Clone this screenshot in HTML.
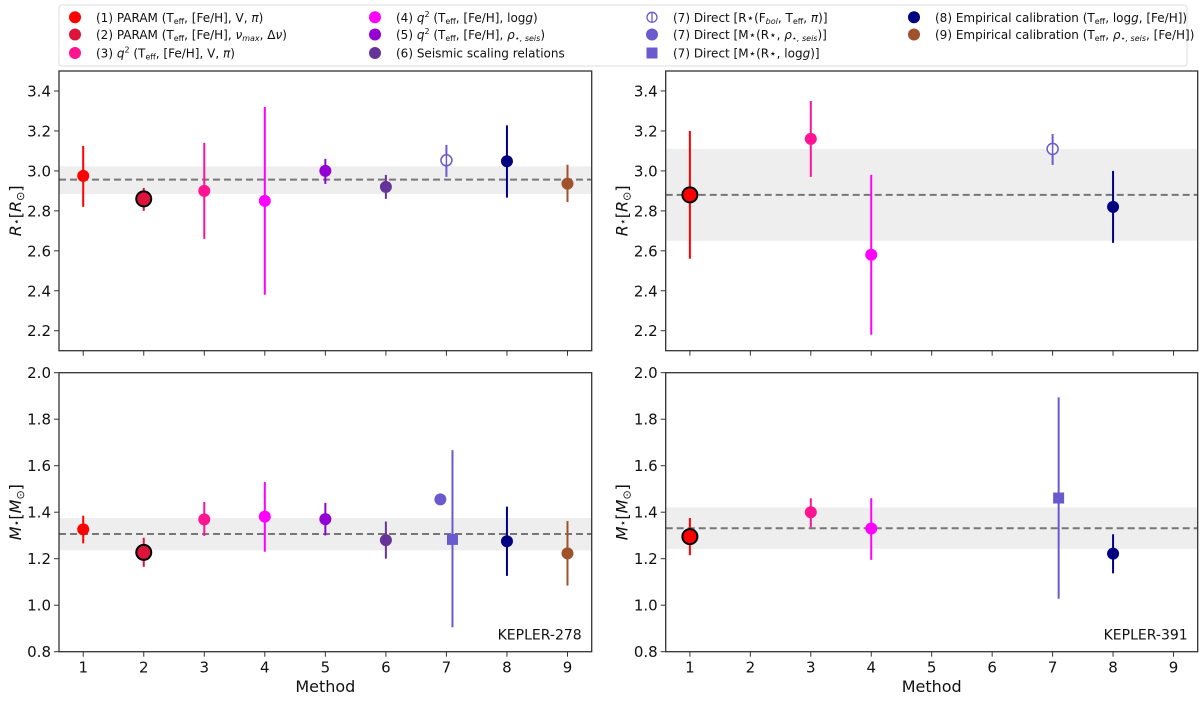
<!DOCTYPE html>
<html><head><meta charset="utf-8"><style>
body{margin:0;background:#fff;width:1200px;height:697px;overflow:hidden;font-family:"Liberation Sans","DejaVu Sans",sans-serif}
svg text{font-family:"DejaVu Sans","Liberation Sans",sans-serif}
</style></head><body>
<svg id="chart" width="1200" height="697" xmlns="http://www.w3.org/2000/svg">
<g id="legend">
<rect x="59" y="5" width="1128" height="61" fill="#fff" stroke="#ddd" rx="3"/>
</g>
</svg>
<script>
const colors=["#ff0000","#dc143c","#ff1493","#ff00ff","#9400d3","#663399","#6a5acd","#000080","#a0522d"];
// KEPLER-278 radius
const k278R_x=[1,2,3,4,5,6,7,8,9];
const k278R_val=[2.975,2.86,2.90,2.85,3.00,2.92,3.053,3.048,2.936];
const k278R_lo=[2.82,2.80,2.66,2.38,2.935,2.86,2.97,2.866,2.844];
const k278R_hi=[3.125,2.915,3.14,3.32,3.06,2.98,3.13,3.228,3.031];
const k278R_type=["c","big","c","c","c","c","open","c","c"];
const k278R_band=[2.884,3.023,2.956];
// KEPLER-278 mass
const k278M_x=[1,2,3,4,5,6,6.9,7.1,8,9];
const k278M_col=[0,1,2,3,4,5,6,6,7,8];
const k278M_val=[1.326,1.227,1.369,1.381,1.37,1.28,1.455,1.283,1.275,1.223];
const k278M_lo=[1.266,1.165,1.298,1.23,1.30,1.20,1.455,0.905,1.126,1.084];
const k278M_hi=[1.385,1.29,1.444,1.53,1.44,1.36,1.455,1.667,1.424,1.362];
const k278M_type=["c","big","c","c","c","c","c","sq","c","c"];
const k278M_band=[1.236,1.375,1.306];
// KEPLER-391 radius
const k391R_x=[1,3,4,7,8];
const k391R_col=[0,2,3,6,7];
const k391R_val=[2.88,3.16,2.58,3.11,2.82];
const k391R_lo=[2.56,2.97,2.18,3.03,2.64];
const k391R_hi=[3.20,3.35,2.98,3.185,3.0];
const k391R_type=["big","c","c","open","c"];
const k391R_band=[2.65,3.11,2.88];
// KEPLER-391 mass
const k391M_x=[1,3,4,7.1,8];
const k391M_col=[0,2,3,6,7];
const k391M_val=[1.295,1.40,1.33,1.461,1.222];
const k391M_lo=[1.215,1.335,1.195,1.028,1.137];
const k391M_hi=[1.375,1.46,1.46,1.894,1.305];
const k391M_type=["big","c","c","sq","c"];
const k391M_band=[1.242,1.421,1.331];
const rTicks=["2.2","2.4","2.6","2.8","3.0","3.2","3.4"];
const mTicks=["0.8","1.0","1.2","1.4","1.6","1.8","2.0"];
const xTicks=[1,2,3,4,5,6,7,8,9];

const NS="http://www.w3.org/2000/svg";
const svg=document.getElementById('chart');
function el(tag,attrs,parent){const e=document.createElementNS(NS,tag);for(const k in attrs)e.setAttribute(k,attrs[k]);(parent||svg).appendChild(e);return e;}

function panel(name,x0,x1,y0,y1,ymin,ymax,ticks,xs,cols,vals,los,his,types,band,ylab,unit,xlabels,tag){
  const g=el('g',{});
  
  
  const sx=v=>x0+(v-0.6)/(8.8)*(x1-x0);
  const sy=v=>y1-(v-ymin)/(ymax-ymin)*(y1-y0);
  const bandR=el('rect',{x:x0,y:sy(band[1]),width:x1-x0,height:sy(band[0])-sy(band[1]),fill:'#eeeeee'},g);
  
  
  const ml=el('line',{x1:x0,x2:x1,y1:sy(band[2]),y2:sy(band[2]),stroke:'#777',"stroke-width":2,"stroke-dasharray":"7,4"},g);
  
  
  for(let i=0;i<xs.length;i++){
    const c=colors[cols[i]];const cx=sx(xs[i]),cy=sy(vals[i]);
    const pg=el('g',{},g);
    
    
    if(his[i]>los[i]) el('line',{x1:cx,x2:cx,y1:sy(his[i]),y2:sy(los[i]),stroke:c,"stroke-width":2},pg);
    if(types[i]==="big") el('circle',{cx:cx,cy:cy,r:7.5,fill:c,stroke:'#000',"stroke-width":2},pg);
    else if(types[i]==="open") el('circle',{cx:cx,cy:cy,r:5.5,fill:'#fff',stroke:c,"stroke-width":1.5},pg), el('line',{x1:cx,x2:cx,y1:cy-5.5,y2:cy+5.5,stroke:c,"stroke-width":1.5},pg);
    else if(types[i]==="sq") el('rect',{x:cx-5.5,y:cy-5.5,width:11,height:11,fill:c},pg);
    else el('circle',{cx:cx,cy:cy,r:6,fill:c},pg);
  }
  el('rect',{x:x0,y:y0,width:x1-x0,height:y1-y0,fill:'none',stroke:'#333',"stroke-width":1.3},g);
  ticks.forEach(t=>{const y=sy(parseFloat(t));
    el('line',{x1:x0-5,x2:x0,y1:y,y2:y,stroke:'#333'},g);
    const tx=el('text',{x:x0-8,y:y+5.5,"text-anchor":"end","font-size":15,fill:'#111'},g);tx.textContent=t;});
  xTicks.forEach(t=>{const x=sx(t);
    el('line',{x1:x,x2:x,y1:y1,y2:y1+5,stroke:'#333'},g);
    if(xlabels){const tx=el('text',{x:x,y:y1+21,"text-anchor":"middle","font-size":15,fill:'#111'},g);tx.textContent=t;}});
  const yl=el('text',{transform:`translate(${x0-38},${(y0+y1)/2}) rotate(-90)`,"text-anchor":"middle","font-size":16,fill:'#111'},g);
  
  
  yl.innerHTML=`<tspan font-style="italic">${ylab}</tspan><tspan font-size="11" dy="-1">⋆</tspan><tspan dy="1">[</tspan><tspan font-style="italic">${ylab}</tspan><tspan font-size="11" dy="3">⊙</tspan><tspan dy="-3">]</tspan>`;
  if(xlabels){const xl=el('text',{x:(x0+x1)/2,y:692,"text-anchor":"middle","font-size":16,fill:'#111'},g);xl.textContent='Method';
    
    }
  if(tag){const tt=el('text',{x:x1-10,y:y1-12,"text-anchor":"end","font-size":14,fill:'#111'},g);tt.textContent=tag;
    
    }
}
const allIdx=[0,1,2,3,4,5,6,7,8];
panel('kepler-278-radius-panel',59,591.7,71,350.7,2.1,3.5,rTicks,k278R_x,allIdx,k278R_val,k278R_lo,k278R_hi,k278R_type,k278R_band,'R','',false,null);
panel('kepler-391-radius-panel',665.7,1197.7,71,350.7,2.1,3.5,rTicks,k391R_x,k391R_col,k391R_val,k391R_lo,k391R_hi,k391R_type,k391R_band,'R','',false,null);
panel('kepler-278-mass-panel',59,591.7,372.7,651.7,0.8,2.0,mTicks,k278M_x,k278M_col,k278M_val,k278M_lo,k278M_hi,k278M_type,k278M_band,'M','',true,'KEPLER-278');
panel('kepler-391-mass-panel',665.7,1197.7,372.7,651.7,0.8,2.0,mTicks,k391M_x,k391M_col,k391M_val,k391M_lo,k391M_hi,k391M_type,k391M_band,'M','',true,'KEPLER-391');

// legend
const legLabels=[
 ['(1) PARAM (T<tspan font-size="8" dy="2">eff</tspan><tspan dy="-2">, [Fe/H], V, </tspan><tspan font-style="italic">π</tspan>)'],
 ['(2) PARAM (T<tspan font-size="8" dy="2">eff</tspan><tspan dy="-2">, [Fe/H], </tspan><tspan font-style="italic">ν</tspan><tspan font-size="8" font-style="italic" dy="2">max</tspan><tspan dy="-2">, Δ</tspan><tspan font-style="italic">ν</tspan>)'],
 ['(3) <tspan font-style="italic">q</tspan><tspan font-size="8" dy="-5">2</tspan><tspan dy="5"> (T</tspan><tspan font-size="8" dy="2">eff</tspan><tspan dy="-2">, [Fe/H], V, </tspan><tspan font-style="italic">π</tspan>)'],
 ['(4) <tspan font-style="italic">q</tspan><tspan font-size="8" dy="-5">2</tspan><tspan dy="5"> (T</tspan><tspan font-size="8" dy="2">eff</tspan><tspan dy="-2">, [Fe/H], log</tspan><tspan font-style="italic">g</tspan>)'],
 ['(5) <tspan font-style="italic">q</tspan><tspan font-size="8" dy="-5">2</tspan><tspan dy="5"> (T</tspan><tspan font-size="8" dy="2">eff</tspan><tspan dy="-2">, [Fe/H], </tspan><tspan font-style="italic">ρ</tspan><tspan font-size="8" font-style="italic" dy="2">⋆, seis</tspan><tspan dy="-2">)</tspan>'],
 ['(6) Seismic scaling relations'],
 ['(7) Direct [R⋆(F<tspan font-size="8" font-style="italic" dy="2">bol</tspan><tspan dy="-2">, T</tspan><tspan font-size="8" dy="2">eff</tspan><tspan dy="-2">, </tspan><tspan font-style="italic">π</tspan>)]'],
 ['(7) Direct [M⋆(R⋆, <tspan font-style="italic">ρ</tspan><tspan font-size="8" font-style="italic" dy="2">⋆, seis</tspan><tspan dy="-2">)]</tspan>'],
 ['(7) Direct [M⋆(R⋆, log<tspan font-style="italic">g</tspan>)]'],
 ['(8) Empirical calibration (T<tspan font-size="8" dy="2">eff</tspan><tspan dy="-2">, log</tspan><tspan font-style="italic">g</tspan>, [Fe/H])'],
 ['(9) Empirical calibration (T<tspan font-size="8" dy="2">eff</tspan><tspan dy="-2">, </tspan><tspan font-style="italic">ρ</tspan><tspan font-size="8" font-style="italic" dy="2">⋆, seis</tspan><tspan dy="-2">, [Fe/H])</tspan>']
];
const legCol=[0,1,2,3,4,5,6,6,6,7,8];
const legMark=["c","c","c","c","c","c","open","c","sq","c","c"];
const legX=[75,75,75,375,375,375,652,652,652,914,914];
const legY=[17.3,34.5,53,17.3,34.5,53,17.3,34.5,53,17.3,34.5];
const leg=document.getElementById('legend');
for(let i=0;i<legLabels.length;i++){
  const g=el('g',{},leg);
  
  
  const c=colors[legCol[i]],x=legX[i],y=legY[i];
  if(legMark[i]==="open"){el('circle',{cx:x,cy:y,r:5,fill:'#fff',stroke:c,"stroke-width":1.3},g);el('line',{x1:x,x2:x,y1:y-5,y2:y+5,stroke:c,"stroke-width":1.3},g);}
  else if(legMark[i]==="sq") el('rect',{x:x-5.5,y:y-5.5,width:11,height:11,fill:c},g);
  else el('circle',{cx:x,cy:y,r:6,fill:c},g);
  const t=el('text',{x:x+21,y:y+4.5,"font-size":12,fill:'#111'},g);
  t.innerHTML=legLabels[i][0];
}
</script>
</body></html>
